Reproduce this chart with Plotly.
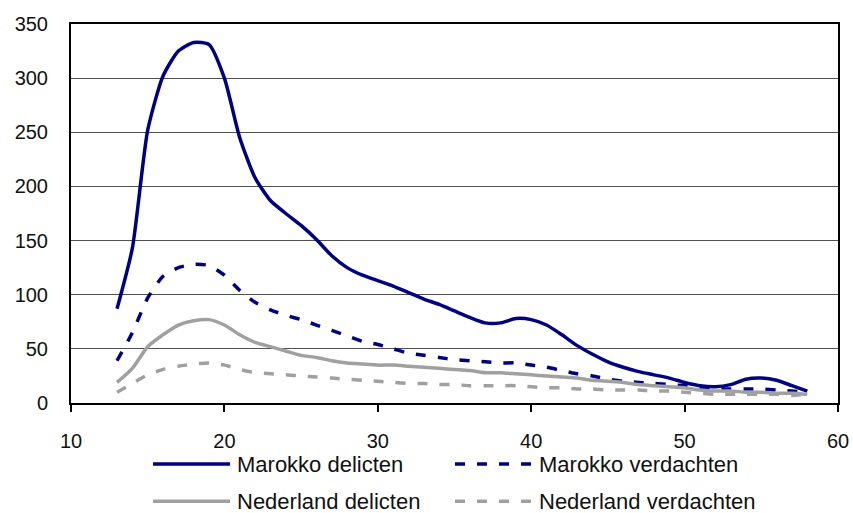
import plotly.graph_objects as go

ages = list(range(13, 59))

marokko_delicten = [87, 143, 252, 302, 325, 333, 331, 300, 245, 208, 187, 175, 164, 151, 136, 125,
                    118, 113, 108, 102, 96, 91, 85, 79, 74, 74, 78, 77, 72, 63, 53, 45, 38, 33,
                    29, 26, 23, 19, 16, 15, 17, 22, 23, 21, 16, 11]
marokko_verdachten = [39, 65, 97, 117, 125, 128, 127, 118, 104, 93, 86, 81, 77, 72, 67, 62,
                      57, 54, 50, 46, 44, 42, 40, 39, 38, 37, 37, 35, 33, 30, 27, 25, 22, 20,
                      19, 18, 17, 16, 14, 13, 13, 13, 13, 12, 11, 10]
nederland_delicten = [19, 32, 52, 63, 72, 76, 77, 72, 63, 56, 52, 48, 44, 42, 39, 37,
                      36, 35, 35, 34, 33, 32, 31, 30, 28, 28, 27, 26, 25, 24, 23, 21, 20, 19,
                      17, 16, 15, 14, 12, 11, 11, 10, 10, 9, 9, 8]
nederland_verdachten = [10, 18, 26, 31, 34, 36, 37, 35, 31, 28, 27, 26, 25, 24, 23, 22,
                        21, 20, 19, 18, 18, 17, 17, 16, 16, 16, 16, 15, 14, 14, 13, 13, 12, 12,
                        12, 11, 11, 10, 9, 8, 8, 8, 8, 8, 7, 8]

x_ticks = [10, 20, 30, 40, 50, 60]
y_ticks = [0, 50, 100, 150, 200, 250, 300, 350]

NAVY = "#000080"
GRAY = "#A0A0A0"
DASH = "10px,12px"
FONT = "Liberation Sans, Arial, sans-serif"

series = [
    ("Marokko delicten", marokko_delicten, NAVY, "solid"),
    ("Marokko verdachten", marokko_verdachten, NAVY, DASH),
    ("Nederland delicten", nederland_delicten, GRAY, "solid"),
    ("Nederland verdachten", nederland_verdachten, GRAY, DASH),
]

fig = go.Figure()
for name, vals, col, dash in series:
    fig.add_trace(go.Scatter(x=ages, y=vals, mode="lines", name=name,
                             line=dict(color=col, width=3.5, dash=dash, shape="spline", smoothing=0.6),
                             showlegend=False))

# manual legend (2 columns x 2 rows) below the plot
L, W, B, H = 71, 767, 403, 378.5
def px(x):
    return (x - L) / W
def py(y):
    return (B - y) / H

legend_pos = [(153, 464), (455, 464), (153, 501), (455, 501)]
shapes = []
annotations = []
for (name, vals, col, dash), (lx, ly) in zip(series, legend_pos):
    shapes.append(dict(type="line", xref="paper", yref="paper",
                       x0=px(lx), x1=px(lx + 77), y0=py(ly), y1=py(ly),
                       line=dict(color=col, width=3.5, dash=dash)))
    annotations.append(dict(xref="paper", yref="paper", x=px(lx + 82), y=py(ly),
                            xanchor="left", yanchor="middle", text=name, showarrow=False,
                            font=dict(family=FONT, size=22, color="#111111")))

fig.update_layout(
    width=853, height=513,
    margin=dict(l=71, r=15, t=24, b=110, autoexpand=False),
    paper_bgcolor="white", plot_bgcolor="white",
    font=dict(family=FONT, size=20, color="#111111"),
    shapes=shapes, annotations=annotations,
    xaxis=dict(range=[10, 60], tickvals=x_ticks, ticktext=[str(v) for v in x_ticks],
               automargin=False,
               showgrid=False, zeroline=False, showline=True, linecolor="black", linewidth=2,
               mirror=True, ticks="outside", ticklen=7, tickwidth=2, tickcolor="black",
               ticklabelstandoff=12),
    yaxis=dict(range=[0, 350], tickvals=y_ticks, ticktext=[str(v) for v in y_ticks],
               automargin=False,
               showgrid=True, gridcolor="#505050", gridwidth=1, zeroline=False,
               showline=True, linecolor="black", linewidth=2, mirror=True,
               ticks="", ticklabelstandoff=17),
)

fig.write_html("out.html", config={"displayModeBar": False},
               post_script="document.body.style.margin='0';document.body.style.overflow='hidden';")
